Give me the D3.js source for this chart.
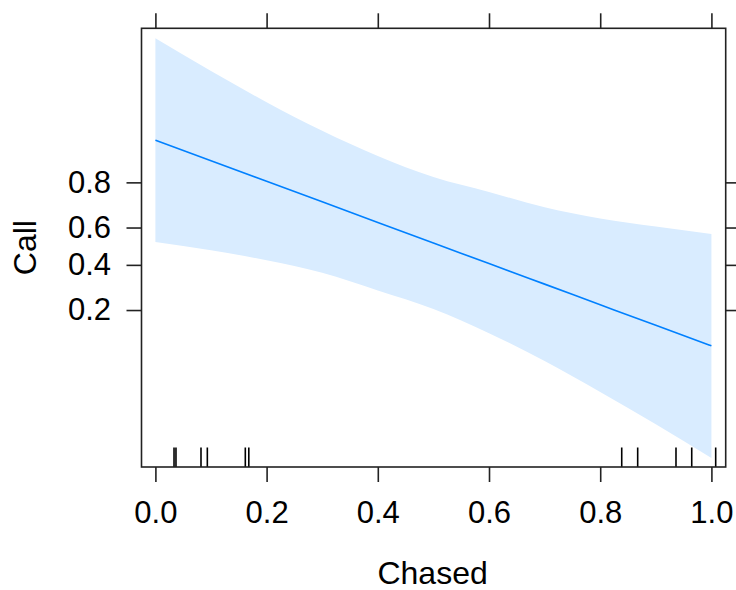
<!DOCTYPE html>
<html>
<head>
<meta charset="utf-8">
<script src="https://cdn.jsdelivr.net/npm/d3@7"></script>
<style>
  html, body { margin: 0; padding: 0; background: #fff; }
  svg { display: block; }
  text { font-family: "Liberation Sans", Arial, sans-serif; fill: #000; }
</style>
</head>
<body>
<svg id="chart" width="736" height="590"></svg>
<script>
// ---- data ----
const xGrid  = [0, 0.1, 0.2, 0.3, 0.4, 0.5, 0.6, 0.7, 0.8, 0.9, 1.0];
const fitP   = [0.909, 0.865, 0.804, 0.724, 0.626, 0.517, 0.407, 0.305, 0.219, 0.152, 0.103];
const upperP = [0.9892, 0.9782, 0.9580, 0.9246, 0.8764, 0.8177, 0.7644, 0.6995, 0.6461, 0.6049, 0.5659];
const lowerP = [0.5228, 0.4783, 0.4241, 0.3594, 0.2765, 0.2039, 0.1313, 0.0762, 0.0405, 0.0205, 0.00996];
const rugX   = [0.0335, 0.037, 0.082, 0.0934, 0.1617, 0.168, 0.8387, 0.8674, 0.9363, 0.9646, 1.0077];
const xTicks = [0, 0.2, 0.4, 0.6, 0.8, 1.0];
const yTicks = [0.2, 0.4, 0.6, 0.8];
const xLabel = "Chased";
const yLabel = "Call";

// ---- layout ----
const panel = { left: 141.5, right: 725.7, top: 28.3, bottom: 467 };
const logit = p => Math.log(p / (1 - p));

const x = d3.scaleLinear().domain([-0.025, 1.0257]).range([panel.left, panel.right]);
const y = d3.scaleLinear().domain([-4.795, 4.732]).range([panel.bottom, panel.top]);

const svg = d3.select("#chart");

const pts = xGrid.map((xv, i) => ({ x: xv, fit: fitP[i], lo: lowerP[i], hi: upperP[i] }));

// confidence band
svg.append("path")
  .datum(pts)
  .attr("fill", "#d9ecff")
  .attr("stroke", "none")
  .attr("d", d3.area()
    .x(d => x(d.x))
    .y0(d => y(logit(d.lo)))
    .y1(d => y(logit(d.hi)))
    .curve(d3.curveMonotoneX));

// fitted line
svg.append("path")
  .datum(pts)
  .attr("fill", "none")
  .attr("stroke", "#0080ff")
  .attr("stroke-width", 1.6)
  .attr("d", d3.line()
    .x(d => x(d.x))
    .y(d => y(logit(d.fit)))
    .curve(d3.curveMonotoneX));

// rug
svg.append("g").selectAll("line")
  .data(rugX)
  .join("line")
  .attr("x1", d => x(d)).attr("x2", d => x(d))
  .attr("y1", panel.bottom - 19.5).attr("y2", panel.bottom)
  .attr("stroke", "#000")
  .attr("stroke-width", 1.6);

// panel box
svg.append("rect")
  .attr("x", panel.left).attr("y", panel.top)
  .attr("width", panel.right - panel.left)
  .attr("height", panel.bottom - panel.top)
  .attr("fill", "none")
  .attr("stroke", "#222")
  .attr("stroke-width", 1.6);

const fontSize = 31;
const titleSize = 32;
function styleAxis(g) {
  g.select(".domain").remove();
  g.selectAll(".tick line").attr("stroke", "#222").attr("stroke-width", 1.6);
  g.selectAll(".tick text").attr("font-size", fontSize)
    .attr("font-family", '"Liberation Sans", Arial, sans-serif').attr("fill", "#000");
}

svg.append("g")
  .attr("transform", `translate(0,${panel.bottom})`)
  .call(d3.axisBottom(x).tickValues(xTicks).tickSize(15).tickPadding(19).tickFormat(d3.format(".1f")))
  .call(styleAxis);

svg.append("g")
  .attr("transform", `translate(0,${panel.top})`)
  .call(d3.axisTop(x).tickValues(xTicks).tickSize(15).tickFormat(""))
  .call(styleAxis);

const yAxisFmt = v => d3.format(".1f")(1 / (1 + Math.exp(-v)));
svg.append("g")
  .attr("transform", `translate(${panel.left},0)`)
  .call(d3.axisLeft(y).tickValues(yTicks.map(logit)).tickSize(15).tickPadding(15.5).tickFormat(yAxisFmt))
  .call(styleAxis);

svg.append("g")
  .attr("transform", `translate(${panel.right},0)`)
  .call(d3.axisRight(y).tickValues(yTicks.map(logit)).tickSize(15).tickFormat(""))
  .call(styleAxis);

// axis titles
svg.append("text")
  .attr("x", (panel.left + panel.right) / 2 - 1)
  .attr("y", 584)
  .attr("text-anchor", "middle")
  .attr("font-size", titleSize)
  .text(xLabel);

svg.append("text")
  .attr("transform", `translate(36,${(panel.top + panel.bottom) / 2}) rotate(-90)`)
  .attr("text-anchor", "middle")
  .attr("font-size", titleSize)
  .text(yLabel);
</script>
</body>
</html>
